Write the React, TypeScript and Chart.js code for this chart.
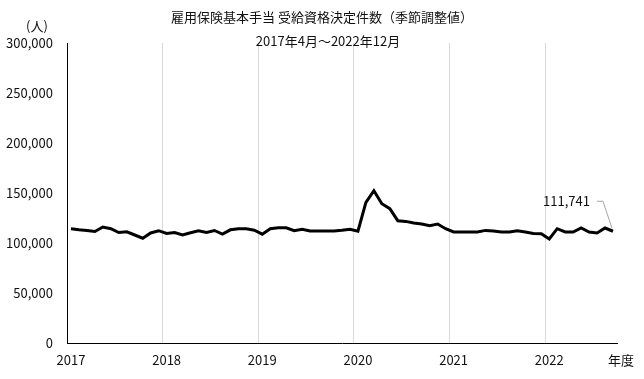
import React, { useEffect, useRef } from "react";
import { Chart, registerables } from "chart.js";

Chart.register(...registerables);

// Monthly categories: April 2017 – December 2022
const startYear = 2017;
const startMonth = 4;
const monthCount = 69;
const categories: string[] = [];
for (let i = 0; i < monthCount; i++) {
  const m0 = startMonth - 1 + i;
  const y = startYear + Math.floor(m0 / 12);
  const m = (m0 % 12) + 1;
  categories.push(`${y}年${m}月`);
}

// Fiscal-year tick labels (shown at each April)
const yearLabels = ["2017", "2018", "2019", "2020", "2021", "2022"];

// 受給資格決定件数（季節調整値）, persons
const decisions = [
  114300, 113300, 112500, 111500, 116000, 114300, 110500, 111200, 108000, 104800, 110000, 112300,
  109500, 110500, 108000, 110300, 112300, 110600, 112500, 109000, 113200, 114200, 114200, 112800,
  108800, 114300, 115200, 115200, 112300, 113800, 112000, 112000, 112000, 112000, 112800, 113800,
  111800, 140600, 152300, 139300, 134300, 122300, 121600, 120000, 119000, 117300, 119000, 114300,
  111000, 111000, 111000, 111000, 112600, 112000, 111000, 111000, 112300, 111000, 109600, 109300,
  104000, 114300, 111000, 111000, 115000, 111000, 110000, 115000, 111741,
];

const titleText = "雇用保険基本手当 受給資格決定件数（季節調整値）";
const subtitleText = "2017年4月～2022年12月";
const yUnitText = "(人)";
const xUnitText = "年度";

const FONT = "'Noto Sans CJK JP', 'Noto Sans', sans-serif";

const textPlugin = {
  id: "textPlugin",
  afterDraw(chart: any) {
    const ctx = chart.ctx;
    ctx.save();
    ctx.fillStyle = "#111";
    ctx.textBaseline = "middle";
    ctx.font = `13px ${FONT}`;
    ctx.textAlign = "center";
    ctx.fillText(titleText, 322, 17);
    ctx.fillText(subtitleText, 328, 41);
    ctx.fillText(yUnitText, 37, 26);
    ctx.fillText(xUnitText, 621, 360);

    // last-point label with leader line
    const meta = chart.getDatasetMeta(0);
    const last = meta.data[meta.data.length - 1];
    if (last) {
      const px = last.x;
      const py = last.y;
      const val = decisions[decisions.length - 1];
      ctx.textAlign = "right";
      ctx.fillText(val.toLocaleString("en-US"), px - 23, py - 30);
      ctx.strokeStyle = "#a6a6a6";
      ctx.lineWidth = 1;
      ctx.beginPath();
      ctx.moveTo(px - 16, py - 30);
      ctx.lineTo(px - 10, py - 30);
      ctx.lineTo(px - 1, py - 3);
      ctx.stroke();
    }
    ctx.restore();
  },
};

export default function App() {
  const ref = useRef<HTMLCanvasElement | null>(null);

  useEffect(() => {
    if (!ref.current) return;
    const chart = new Chart(ref.current, {
      type: "line",
      data: {
        labels: categories,
        datasets: [
          {
            data: decisions,
            borderColor: "#000",
            borderWidth: 3,
            pointRadius: 0,
            tension: 0,
            fill: false,
          },
        ],
      },
      options: {
        responsive: false,
        animation: false,
        layout: { padding: { left: 0, right: 27, top: 43, bottom: 0 } },
        plugins: {
          legend: { display: false },
          tooltip: { enabled: false },
          title: { display: false },
        },
        font: { family: FONT },
        scales: {
          x: {
            type: "category",
            offset: true,
            afterFit(scale: any) {
              scale.height = 36;
            },
            grid: {
              offset: true,
              drawTicks: false,
              color: (c: any) =>
                typeof c.index === "number" && c.index > 0 && c.index % 12 === 0
                  ? "#d9d9d9"
                  : "rgba(0,0,0,0)",
              lineWidth: 1,
            },
            border: { display: true, color: "#000", width: 1 },
            ticks: {
              autoSkip: false,
              maxRotation: 0,
              minRotation: 0,
              padding: 9,
              color: "#111",
              font: { family: FONT, size: 13 },
              callback: (_v: any, i: number) =>
                i % 12 === 0 ? yearLabels[i / 12] ?? "" : "",
            },
          },
          y: {
            min: 0,
            max: 300000,
            afterFit(scale: any) {
              scale.width = 67;
            },
            grid: { display: false, drawTicks: false },
            border: { display: true, color: "#000", width: 1 },
            ticks: {
              stepSize: 50000,
              padding: 14,
              color: "#111",
              font: { family: FONT, size: 13 },
              callback: (v: any) => Number(v).toLocaleString("en-US"),
            },
          },
        },
      },
      plugins: [textPlugin],
    } as any);
    return () => chart.destroy();
  }, []);

  return (
    <div style={{ position: "fixed", left: 0, top: 0, width: 644, height: 379, background: "#fff" }}>
      <canvas ref={ref} width={644} height={379} style={{ display: "block" }} />
    </div>
  );
}
